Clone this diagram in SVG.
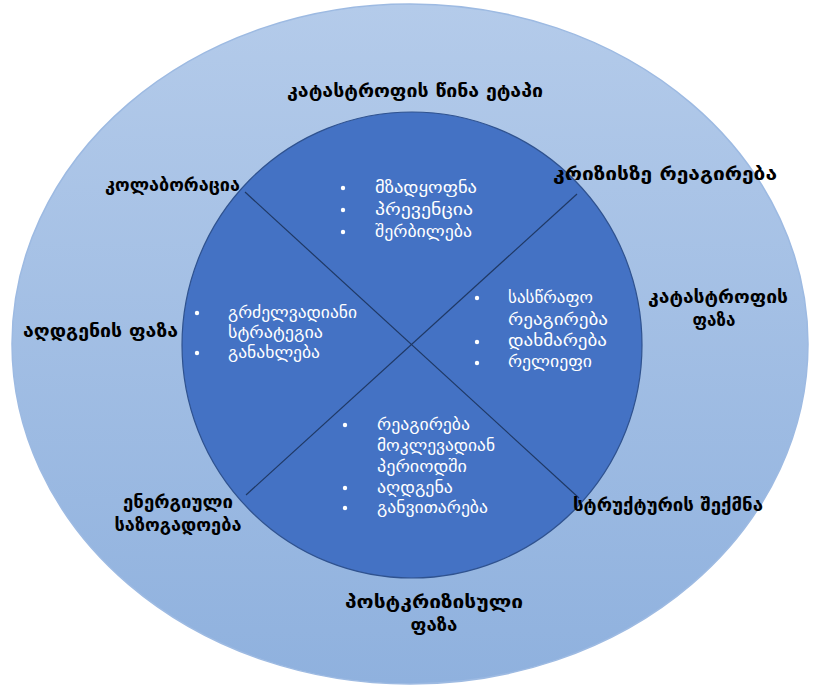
<svg xmlns="http://www.w3.org/2000/svg" width="815" height="688" viewBox="0 0 815 688">
  <defs>
    <linearGradient id="outerFill" x1="0" y1="0" x2="0" y2="1">
      <stop offset="0" stop-color="#b4cbea"/>
      <stop offset="1" stop-color="#8fb1de"/>
    </linearGradient>
  </defs>
  <style>
    .outer { fill: url(#outerFill); stroke: #9dbae2; stroke-width: 1.5; }
    .inner { fill: #4472c4; stroke: #2f528f; stroke-width: 1.2; }
    .divider { stroke: #1f3864; stroke-width: 1.2; fill: none; }
    .lbl { font-family: "DejaVu Sans", sans-serif; font-size: 17px; font-weight: bold; fill: #000; }
    .item { font-family: "DejaVu Sans", sans-serif; font-size: 15.5px; fill: #fff; }
    .dot { fill: #fff; }
  </style>

  <!-- phase ring -->
  <g id="phase-ring">
    <ellipse class="outer" cx="410" cy="344" rx="398" ry="340"/>
  </g>

  <!-- core wheel -->
  <g id="core-wheel">
    <ellipse class="inner" cx="412" cy="345" rx="230" ry="233"/>
  </g>

  <!-- quadrant dividers -->
  <g id="connectors">
    <line class="divider" x1="245" y1="192" x2="579" y2="498"/>
    <line class="divider" x1="577" y1="194" x2="246" y2="495"/>
  </g>

  <!-- outer phase labels -->
  <g id="label-pre-disaster">
    <text class="lbl" x="415" y="97" text-anchor="middle" textLength="256" lengthAdjust="spacingAndGlyphs">კატასტროფის წინა ეტაპი</text>
  </g>
  <g id="label-collaboration">
    <text class="lbl" x="105" y="191" textLength="135" lengthAdjust="spacingAndGlyphs">კოლაბორაცია</text>
  </g>
  <g id="label-recovery-phase">
    <text class="lbl" x="23" y="337" textLength="155" lengthAdjust="spacingAndGlyphs">აღდგენის ფაზა</text>
  </g>
  <g id="label-crisis-response">
    <text class="lbl" x="553" y="180" textLength="224" lengthAdjust="spacingAndGlyphs">კრიზისზე რეაგირება</text>
  </g>
  <g id="label-disaster-phase">
    <text class="lbl" x="718" y="303" text-anchor="middle" textLength="140" lengthAdjust="spacingAndGlyphs">კატასტროფის</text>
    <text class="lbl" x="714" y="326" text-anchor="middle" textLength="43" lengthAdjust="spacingAndGlyphs">ფაზა</text>
  </g>
  <g id="label-energetic-society">
    <text class="lbl" x="178" y="508" text-anchor="middle" textLength="110" lengthAdjust="spacingAndGlyphs">ენერგიული</text>
    <text class="lbl" x="178" y="531" text-anchor="middle" textLength="127" lengthAdjust="spacingAndGlyphs">საზოგადოება</text>
  </g>
  <g id="label-structure">
    <text class="lbl" x="573" y="511" textLength="190" lengthAdjust="spacingAndGlyphs">სტრუქტურის შექმნა</text>
  </g>
  <g id="label-post-crisis">
    <text class="lbl" x="434" y="608" text-anchor="middle" textLength="178" lengthAdjust="spacingAndGlyphs">პოსტკრიზისული</text>
    <text class="lbl" x="434" y="631" text-anchor="middle" textLength="47" lengthAdjust="spacingAndGlyphs">ფაზა</text>
  </g>

  <!-- top quadrant -->
  <g id="quadrant-top">
    <circle class="dot" cx="343" cy="188" r="2.2"/>
    <circle class="dot" cx="343" cy="210" r="2.2"/>
    <circle class="dot" cx="343" cy="232" r="2.2"/>
    <text class="item" x="375" y="193" textLength="102" lengthAdjust="spacingAndGlyphs">მზადყოფნა</text>
    <text class="item" x="375" y="215" textLength="98" lengthAdjust="spacingAndGlyphs">პრევენცია</text>
    <text class="item" x="375" y="237" textLength="97" lengthAdjust="spacingAndGlyphs">შერბილება</text>
  </g>

  <!-- left quadrant -->
  <g id="quadrant-left">
    <circle class="dot" cx="197" cy="313" r="2.2"/>
    <circle class="dot" cx="197" cy="353" r="2.2"/>
    <text class="item" x="228" y="318" textLength="129" lengthAdjust="spacingAndGlyphs">გრძელვადიანი</text>
    <text class="item" x="228" y="338" textLength="95" lengthAdjust="spacingAndGlyphs">სტრატეგია</text>
    <text class="item" x="228" y="358" textLength="92" lengthAdjust="spacingAndGlyphs">განახლება</text>
  </g>

  <!-- right quadrant -->
  <g id="quadrant-right">
    <circle class="dot" cx="477" cy="298" r="2.2"/>
    <circle class="dot" cx="477" cy="342" r="2.2"/>
    <circle class="dot" cx="477" cy="363" r="2.2"/>
    <text class="item" x="508" y="303" textLength="85" lengthAdjust="spacingAndGlyphs">სასწრაფო</text>
    <text class="item" x="508" y="325" textLength="100" lengthAdjust="spacingAndGlyphs">რეაგირება</text>
    <text class="item" x="508" y="346" textLength="99" lengthAdjust="spacingAndGlyphs">დახმარება</text>
    <text class="item" x="508" y="367" textLength="84" lengthAdjust="spacingAndGlyphs">რელიეფი</text>
  </g>

  <!-- bottom quadrant -->
  <g id="quadrant-bottom">
    <circle class="dot" cx="345" cy="425" r="2.2"/>
    <circle class="dot" cx="345" cy="488" r="2.2"/>
    <circle class="dot" cx="345" cy="508" r="2.2"/>
    <text class="item" x="377" y="430" textLength="93" lengthAdjust="spacingAndGlyphs">რეაგირება</text>
    <text class="item" x="377" y="451" textLength="118" lengthAdjust="spacingAndGlyphs">მოკლევადიან</text>
    <text class="item" x="377" y="472" textLength="90" lengthAdjust="spacingAndGlyphs">პერიოდში</text>
    <text class="item" x="377" y="493" textLength="76" lengthAdjust="spacingAndGlyphs">აღდგენა</text>
    <text class="item" x="377" y="513" textLength="111" lengthAdjust="spacingAndGlyphs">განვითარება</text>
  </g>
</svg>
